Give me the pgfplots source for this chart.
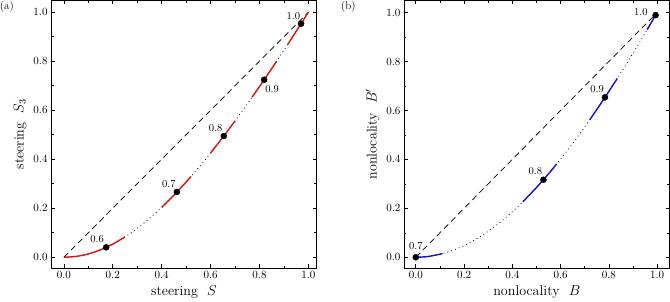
\documentclass[border=0pt]{standalone}
\usepackage{pgfplots}
\pgfplotsset{compat=1.18}
\definecolor{cred}{RGB}{220,20,20}
\definecolor{cblue}{RGB}{20,20,205}
\tikzset{plab/.style={font=\fontsize{10.5}{12}\selectfont, inner sep=0pt}}
\pgfplotsset{
  myaxis/.style={
    width=264pt, height=266pt, scale only axis,
    xmin=-0.052, xmax=1.034, ymin=-0.044, ymax=1.048,
    xtick={0,0.2,0.4,0.6,0.8,1.0}, ytick={0,0.2,0.4,0.6,0.8,1.0},
    minor x tick num=1, minor y tick num=1,
    tick align=inside, xtick pos=both, ytick pos=both,
    major tick length=4pt, minor tick length=2.5pt,
    axis line style={line width=0.8pt},
    every tick/.style={black, line width=0.6pt},
    tick label style={font=\fontsize{11}{13}\selectfont},
    label style={font=\fontsize{14}{16}\selectfont},
    xticklabel style={/pgf/number format/.cd, fixed, fixed zerofill, precision=1},
    yticklabel style={/pgf/number format/.cd, fixed, fixed zerofill, precision=1},
    clip=false,
  },
  dashdiag/.style={black, line width=0.7pt, dash pattern=on 6pt off 4pt},
  dotcurve/.style={black, line width=0.8pt, dash pattern=on 0.8pt off 3.2pt, smooth},
  seg/.style={line width=1.4pt, smooth},
  dots/.style={only marks, mark=*, mark size=3pt, mark options={fill=black, draw=black}},
}
\begin{document}
\begin{tikzpicture}
\begin{axis}[myaxis, name=A,
  xlabel={steering\ \ $S$}, ylabel={steering\ \ $S_3$}]
\addplot[dashdiag] coordinates {(0,0) (1,1)};
\addplot[dotcurve] coordinates {
(0,0) (0.05,0.00341) (0.1,0.01359) (0.15,0.03040) (0.2,0.05359) (0.25,0.08286)
(0.3,0.11786) (0.35,0.15818) (0.4,0.20342) (0.45,0.25316) (0.5,0.30701)
(0.55,0.36457) (0.6,0.42550) (0.65,0.48946) (0.7,0.55614) (0.75,0.62528)
(0.8,0.69663) (0.85,0.76996) (0.9,0.84508) (0.95,0.92181) (1.0,1.0)};
\addplot[seg, cred] coordinates {(0,0) (0.05,0.00341) (0.1,0.01359) (0.15,0.03040) (0.2,0.05359) (0.25,0.08286)};
\addplot[seg, cred] coordinates {(0.4,0.20342) (0.45,0.25316) (0.5,0.30701) (0.52,0.32962)};
\addplot[seg, cred] coordinates {(0.6,0.42550) (0.65,0.48946) (0.7,0.55614)};
\addplot[seg, cred] coordinates {(0.77,0.65357) (0.8,0.69663) (0.85,0.76996) (0.87,0.79981)};
\addplot[seg, cred] coordinates {(0.915,0.86794) (0.95,0.92181) (1.0,1.0)};
\addplot[dots] coordinates {(0.173,0.0405) (0.462,0.2667) (0.654,0.4947) (0.819,0.7243) (0.970,0.9529)};
\node[plab] at (axis cs:0.173,0.0405) [xshift=-9pt, yshift=8pt] {0.6};
\node[plab] at (axis cs:0.462,0.2667) [xshift=-8pt, yshift=7.7pt] {0.7};
\node[plab] at (axis cs:0.654,0.4947) [xshift=-8pt, yshift=7.5pt] {0.8};
\node[plab] at (axis cs:0.819,0.7243) [xshift=8pt, yshift=-9pt] {0.9};
\node[plab] at (axis cs:0.970,0.9529) [xshift=-7.6pt, yshift=7.7pt] {1.0};
\node[anchor=north west, inner sep=0pt, font=\fontsize{11}{13}\selectfont] at (rel axis cs:0,1) [xshift=-51pt, yshift=-1pt] {(a)};
\end{axis}
\begin{axis}[myaxis, name=B, at={(350.7pt,0pt)},
  xmin=-0.049, xmax=1.052, ymin=-0.044, ymax=1.050,
  xlabel={nonlocality\ \ $B$}, ylabel={nonlocality\ \ $B'$}]
\addplot[dashdiag] coordinates {(0,0) (1,1)};
\addplot[dotcurve] coordinates {
(0,0) (0.05,0.003016) (0.1,0.012041) (0.15,0.027009) (0.2,0.047812) (0.25,0.074302)
(0.3,0.106301) (0.35,0.143601) (0.4,0.185976) (0.45,0.233180) (0.5,0.284962)
(0.55,0.341062) (0.6,0.401222) (0.65,0.465188) (0.7,0.532713) (0.75,0.603558)
(0.8,0.677494) (0.85,0.754305) (0.9,0.833786) (0.95,0.915747) (1.0,1.0)};
\addplot[seg, cblue] coordinates {(0,0) (0.05,0.003016) (0.111,0.014828)};
\addplot[seg, cblue] coordinates {(0.444,0.227270) (0.5,0.284962) (0.55,0.341062) (0.584,0.381541)};
\addplot[seg, cblue] coordinates {(0.721,0.562029) (0.75,0.603558) (0.8,0.677494) (0.835,0.730968)};
\addplot[seg, cblue] coordinates {(0.959,0.930748) (1.0,1.0)};
\addplot[dots] coordinates {(0,0) (0.529,0.3169) (0.784,0.6535) (0.994,0.9898)};
\node[plab] at (axis cs:0,0) [xshift=0pt, yshift=11pt] {0.7};
\node[plab] at (axis cs:0.529,0.3169) [xshift=-8pt, yshift=8.3pt] {0.8};
\node[plab] at (axis cs:0.784,0.6535) [xshift=-7.7pt, yshift=8.7pt] {0.9};
\node[plab] at (axis cs:0.994,0.9898) [xshift=-14.7pt, yshift=2.7pt] {1.0};
\node[anchor=north west, inner sep=0pt, font=\fontsize{11}{13}\selectfont] at (rel axis cs:0,1) [xshift=-62.7pt, yshift=-1pt] {(b)};
\end{axis}
\end{tikzpicture}
\end{document}
